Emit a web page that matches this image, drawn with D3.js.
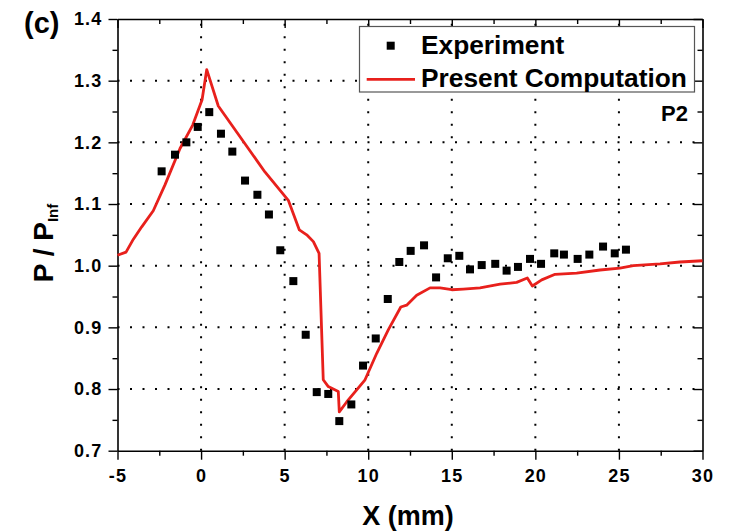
<!DOCTYPE html>
<html>
<head>
<meta charset="utf-8">
<script src="https://cdn.jsdelivr.net/npm/d3@7"></script>
<style>
  body { margin: 0; background: #fff; }
  svg { font-family: "Liberation Sans", Arial, sans-serif; font-weight: bold; }
</style>
</head>
<body>
<div class="chart"></div>
<script>
// experiment (squares)
const expX = [-2.36, -1.56, -0.88, -0.20, 0.49, 1.19, 1.87, 2.63, 3.37, 4.06,
  4.74, 5.52, 6.26, 6.92, 7.61, 8.27, 8.99, 9.69, 10.45, 11.17, 11.86, 12.54,
  13.34, 14.06, 14.76, 15.45, 16.09, 16.79, 17.60, 18.28, 18.96, 19.68, 20.34,
  21.13, 21.71, 22.53, 23.23, 24.05, 24.75, 25.42];
const expY = [1.153, 1.180, 1.200, 1.225, 1.249, 1.214, 1.185, 1.138, 1.115, 1.083,
  1.025, 0.975, 0.888, 0.795, 0.792, 0.748, 0.775, 0.838, 0.882, 0.946, 1.006, 1.024,
  1.033, 0.981, 1.012, 1.016, 0.994, 1.001, 1.003, 0.992, 0.998, 1.011, 1.003,
  1.020, 1.018, 1.011, 1.018, 1.031, 1.020, 1.026];

// present computation (red line)
const compX = [-5, -4.49, -4.05, -3.55, -2.86, -2.16, -1.26, -0.50, 0.06, 0.34, 1.03,
  3.82, 5.22, 5.88, 6.32, 6.72, 7.06, 7.31, 7.61, 8.21, 8.27, 8.71, 9.81, 10.51,
  11.20, 11.95, 12.30, 12.90, 13.70, 14.30, 15.00, 15.69, 16.69, 17.89, 18.88,
  19.52, 19.82, 20.38, 21.18, 22.47, 23.87, 25.06, 25.86, 27.46, 28.65, 30.0];
const compY = [1.017, 1.022, 1.043, 1.063, 1.089, 1.131, 1.190, 1.228, 1.269, 1.318, 1.259,
  1.152, 1.106, 1.058, 1.050, 1.039, 1.020, 0.815, 0.804, 0.796, 0.763, 0.779, 0.815, 0.858,
  0.896, 0.933, 0.936, 0.952, 0.964, 0.964, 0.961, 0.962, 0.964, 0.970, 0.973,
  0.980, 0.967, 0.977, 0.986, 0.988, 0.993, 0.996, 1.000, 1.003, 1.006, 1.008];

const xTicks = [-5, 0, 5, 10, 15, 20, 25, 30];
const yTicks = [0.7, 0.8, 0.9, 1.0, 1.1, 1.2, 1.3, 1.4];
const xMinor = [-2.5, 2.5, 7.5, 12.5, 17.5, 22.5, 27.5];
const yMinor = [0.75, 0.85, 0.95, 1.05, 1.15, 1.25, 1.35];
const seriesNames = ["Experiment", "Present Computation"];

const W = 736, H = 532;
const margin = {top: 19, right: 33.5, bottom: 81.3, left: 117.5};
const width = W - margin.left - margin.right;
const height = H - margin.top - margin.bottom;
const red = "#e8201c";

const xScale = d3.scaleLinear().domain([-5, 30]).range([0, width]);
const yScale = d3.scaleLinear().domain([0.7, 1.4]).range([height, 0]);

const svg = d3.select(".chart").append("svg")
  .attr("width", W).attr("height", H);
const g = svg.append("g")
  .attr("transform", `translate(${margin.left},${margin.top})`);

// dotted grid
g.append("g").selectAll("line")
  .data(xTicks.slice(1, -1)).enter().append("line")
  .attr("x1", d => xScale(d)).attr("x2", d => xScale(d))
  .attr("y1", height).attr("y2", 0)
  .attr("stroke", "#000").attr("stroke-width", 2)
  .attr("stroke-dasharray", "2,10.5");
g.append("g").selectAll("line")
  .data(yTicks.slice(1, -1)).enter().append("line")
  .attr("y1", d => yScale(d)).attr("y2", d => yScale(d))
  .attr("x1", 0).attr("x2", width)
  .attr("stroke", "#000").attr("stroke-width", 2)
  .attr("stroke-dasharray", "2,10.5");

// axes
function styleAxis(sel) {
  sel.selectAll("path").attr("stroke", "#000").attr("stroke-width", 1.6);
  sel.selectAll("line").attr("stroke", "#000").attr("stroke-width", 1.4);
  sel.selectAll("text").attr("font-family", "Liberation Sans, Arial, sans-serif")
    .attr("font-weight", "bold").attr("font-size", 18).attr("letter-spacing", 1.2)
    .attr("fill", "#000");
}
const fmtY = d3.format(".1f");

g.append("g").attr("transform", `translate(0,${height})`)
  .call(d3.axisBottom(xScale).tickValues(xTicks).tickSize(9).tickSizeOuter(0)
    .tickPadding(10).tickFormat(d => String(d)))
  .call(styleAxis);
g.append("g").attr("transform", `translate(0,${height})`)
  .call(d3.axisBottom(xScale).tickValues(xMinor).tickSize(5).tickFormat(""))
  .call(styleAxis).select("path").remove();

g.append("g")
  .call(d3.axisLeft(yScale).tickValues(yTicks).tickSize(9).tickSizeOuter(0)
    .tickPadding(6).tickFormat(fmtY))
  .call(styleAxis);
g.append("g")
  .call(d3.axisLeft(yScale).tickValues(yMinor).tickSize(5).tickFormat(""))
  .call(styleAxis).select("path").remove();

// top and right (inward ticks)
g.append("g")
  .call(d3.axisTop(xScale).tickValues(xTicks).tickSize(-9).tickSizeOuter(0).tickFormat(""))
  .call(styleAxis);
g.append("g")
  .call(d3.axisTop(xScale).tickValues(xMinor).tickSize(-5).tickFormat(""))
  .call(styleAxis).select("path").remove();
g.append("g").attr("transform", `translate(${width},0)`)
  .call(d3.axisRight(yScale).tickValues(yTicks).tickSize(-9).tickSizeOuter(0).tickFormat(""))
  .call(styleAxis);
g.append("g").attr("transform", `translate(${width},0)`)
  .call(d3.axisRight(yScale).tickValues(yMinor).tickSize(-5).tickFormat(""))
  .call(styleAxis).select("path").remove();

// computation line
const line = d3.line().x(d => xScale(d[0])).y(d => yScale(d[1]));
g.append("path")
  .datum(compX.map((x, i) => [x, compY[i]]))
  .attr("d", line)
  .attr("fill", "none").attr("stroke", red).attr("stroke-width", 2.8)
  .attr("stroke-linejoin", "round");

// experiment squares
const sq = 8;
g.append("g").selectAll("rect")
  .data(expX.map((x, i) => [x, expY[i]])).enter().append("rect")
  .attr("x", d => xScale(d[0]) - sq / 2)
  .attr("y", d => yScale(d[1]) - sq / 2)
  .attr("width", sq).attr("height", sq)
  .attr("fill", "#000");

// legend
const lg = svg.append("g");
lg.append("rect")
  .attr("x", 359.5).attr("y", 26.5).attr("width", 335).attr("height", 65.5)
  .attr("fill", "#fff").attr("stroke", "#555").attr("stroke-width", 1.2);
lg.append("rect")
  .attr("x", 390.7 - sq / 2).attr("y", 45.7 - sq / 2)
  .attr("width", sq).attr("height", sq).attr("fill", "#000");
lg.append("line")
  .attr("x1", 366.7).attr("x2", 415).attr("y1", 79.3).attr("y2", 79.3)
  .attr("stroke", red).attr("stroke-width", 2.8);
lg.selectAll("text.leg")
  .data(seriesNames).enter().append("text")
  .attr("class", "leg")
  .attr("x", 421).attr("y", (d, i) => i === 0 ? 53.5 : 86.5)
  .attr("font-size", 26.3).attr("fill", "#000")
  .text(d => d);

// panel tag and P2
svg.append("text").attr("x", 24).attr("y", 33)
  .attr("font-size", 29).text("(c)");
svg.append("text").attr("x", 688).attr("y", 121)
  .attr("text-anchor", "end").attr("font-size", 22).text("P2");

// axis titles
svg.append("text")
  .attr("x", margin.left + width / 2 - 2).attr("y", 525)
  .attr("text-anchor", "middle").attr("font-size", 27)
  .text("X (mm)");

const yl = svg.append("text")
  .attr("transform", "translate(53,243) rotate(-90)")
  .attr("text-anchor", "middle").attr("font-size", 28);
yl.append("tspan").text("P / P");
yl.append("tspan").attr("font-size", 15).attr("dy", 5).text("Inf");
</script>
</body>
</html>
